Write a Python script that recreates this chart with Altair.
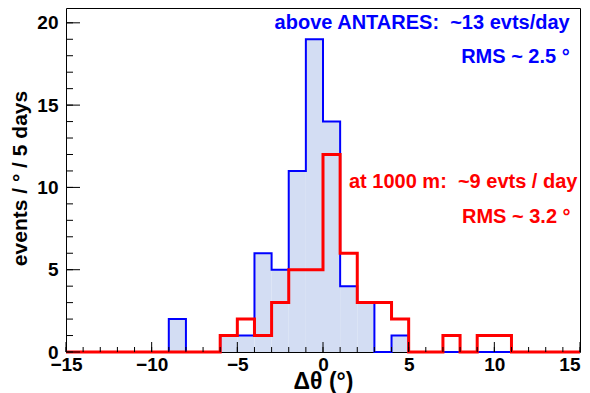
import altair as alt
import pandas as pd

# ---- data ----
bin_edges = list(range(-15, 16))
above_counts = [0, 0, 0, 0, 0, 0, 2, 0, 0, 1, 1, 6, 5, 11, 19, 14, 4, 3, 0, 1,
                0, 0, 0, 0, 0, 0, 0, 0, 0, 0]
deep_counts = [0, 0, 0, 0, 0, 0, 0, 0, 0, 1, 2, 1, 3, 5, 5, 12, 6, 3, 3, 2,
               0, 0, 1, 0, 1, 1, 0, 0, 0, 0]
x_tick_labels = [-15, -10, -5, 0, 5, 10, 15]
x_minor_ticks = list(range(-15, 16))
y_tick_labels = [0, 5, 10, 15, 20]
y_minor_ticks = list(range(0, 21))
note_texts = ["above ANTARES:\u00a0 ~13 evts/day", "RMS ~ 2.5 \u00b0",
              "at 1000 m:\u00a0 ~9 evts / day", "RMS ~ 3.2 \u00b0"]
note_x = [14.4, 14.4, 14.85, 14.45]
note_y = [19.6, 17.55, 9.95, 7.85]
note_colors = ["#0000ff", "#0000ff", "#ff0000", "#ff0000"]

FONT = "Liberation Sans"
W, H = 514, 344
XD = [-15, 15]
YD = [0, 20.9]

bars = pd.DataFrame({
    "lo": bin_edges[:-1], "hi": bin_edges[1:], "n": above_counts,
})
step_above = pd.DataFrame({"x": bin_edges, "n": above_counts + [above_counts[-1]]})
step_deep = pd.DataFrame({"x": bin_edges, "n": deep_counts + [deep_counts[-1]]})

xs = alt.Scale(domain=XD, nice=False, zero=False)
ys = alt.Scale(domain=YD, nice=False, zero=False)

x_axis = alt.Axis(values=x_tick_labels, ticks=False, domain=False, grid=False,
                  labelFont=FONT, labelFontWeight="bold", labelFontSize=19,
                  labelColor="black", labelPadding=3, labelFlush=False,
                  labelOverlap=False,
                  labelAlign=alt.condition("datum.value >= 15",
                                           alt.value("right"), alt.value("center")),
                  title="\u0394\u03b8 (\u00b0)",
                  titleFont=FONT, titleFontSize=23, titleFontWeight="bold",
                  titleColor="black", titleBaseline="alphabetic", titleY=36,
                  titleX=W / 2)
y_axis = alt.Axis(values=y_tick_labels, ticks=False, domain=False, grid=False,
                  labelFont=FONT, labelFontWeight="bold", labelFontSize=19,
                  labelColor="black", labelPadding=8, labelOverlap=False,
                  title="events / \u00b0 / 5 days", titleFont=FONT,
                  titleFontSize=21, titleFontWeight="bold", titleColor="black",
                  titleX=-36, titleY=170, titleAngle=270, titleBaseline="bottom")

fill = alt.Chart(bars).mark_rect(color="#d3ddf3", strokeWidth=0).encode(
    x=alt.X("lo:Q", scale=xs, axis=x_axis),
    x2="hi:Q",
    y=alt.Y("n:Q", scale=ys, axis=y_axis),
    y2=alt.datum(0),
)

blue_line = alt.Chart(step_above).mark_line(
    interpolate="step-after", color="#0000ff", strokeWidth=2
).encode(x=alt.X("x:Q", scale=xs), y=alt.Y("n:Q", scale=ys))

red_line = alt.Chart(step_deep).mark_line(
    interpolate="step-after", color="#ff0000", strokeWidth=3
).encode(x=alt.X("x:Q", scale=xs), y=alt.Y("n:Q", scale=ys))

xmin_df = pd.DataFrame({"t": x_minor_ticks})
xmaj_df = pd.DataFrame({"t": x_tick_labels})
ymin_df = pd.DataFrame({"t": y_minor_ticks})
ymaj_df = pd.DataFrame({"t": y_tick_labels})

x_minor = alt.Chart(xmin_df).mark_rule(color="black", strokeWidth=1).encode(
    x=alt.X("t:Q", scale=xs), y=alt.value(H), y2=alt.value(H - 5))
x_major = alt.Chart(xmaj_df).mark_rule(color="black", strokeWidth=1).encode(
    x=alt.X("t:Q", scale=xs), y=alt.value(H), y2=alt.value(H - 10))
y_minor = alt.Chart(ymin_df).mark_rule(color="black", strokeWidth=1).encode(
    y=alt.Y("t:Q", scale=ys), x=alt.value(0), x2=alt.value(7))
y_major = alt.Chart(ymaj_df).mark_rule(color="black", strokeWidth=1).encode(
    y=alt.Y("t:Q", scale=ys), x=alt.value(0), x2=alt.value(14))

notes = pd.DataFrame({"txt": note_texts, "x": note_x, "y": note_y, "c": note_colors})
text = alt.Chart(notes).mark_text(
    font=FONT, fontWeight="bold", fontSize=20, align="right", baseline="alphabetic"
).encode(
    x=alt.X("x:Q", scale=xs), y=alt.Y("y:Q", scale=ys),
    text="txt:N", color=alt.Color("c:N", scale=None),
)

chart = alt.layer(
    fill, blue_line, red_line, x_minor, x_major, y_minor, y_major, text
).properties(
    width=W, height=H,
    autosize=alt.AutoSizeParams(type="none"),
    padding={"left": 58, "top": 0, "right": 2, "bottom": 41},
    background="white",
).configure_view(stroke="black", strokeWidth=1)

chart.save("out.html", embed_options={"renderer": "svg", "actions": False})
